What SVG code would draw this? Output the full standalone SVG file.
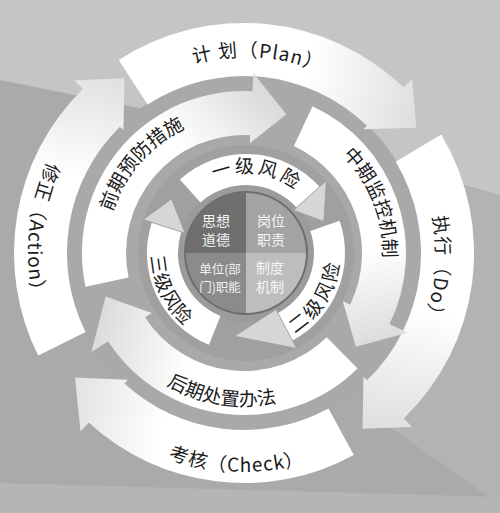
<svg xmlns="http://www.w3.org/2000/svg" width="500" height="513" viewBox="0 0 500 513">
<style>
.t{font-family:"Noto Sans CJK SC","Noto Sans",sans-serif;fill:#1b1b1b;font-size:19px;letter-spacing:1px}
.tm{font-family:"Noto Sans CJK SC","Noto Sans",sans-serif;fill:#1b1b1b;font-size:19px}
.ti{font-family:"Noto Sans CJK SC","Noto Sans",sans-serif;fill:#1b1b1b;font-size:19px;letter-spacing:3px}
.q{font-family:"Noto Sans CJK SC","Noto Sans",sans-serif;fill:#f6f6f6;font-size:14px;text-anchor:middle}
.qs{font-family:"Noto Sans CJK SC","Noto Sans",sans-serif;fill:#f0f0f0;font-size:12.5px;text-anchor:middle}
.head{fill:#d6d6d6;stroke:#9a9a9a;stroke-width:0.8}
.ib{fill:#ffffff}
</style>
<defs>
<linearGradient id="gPlan" gradientUnits="userSpaceOnUse" x1="133" y1="82" x2="416" y2="128"><stop offset="0" stop-color="#fff"/><stop offset="0.6" stop-color="#fff"/><stop offset="1" stop-color="#dedede"/></linearGradient>
<linearGradient id="gDo" gradientUnits="userSpaceOnUse" x1="418" y1="148" x2="362" y2="429"><stop offset="0" stop-color="#fff"/><stop offset="0.55" stop-color="#fff"/><stop offset="1" stop-color="#dedede"/></linearGradient>
<linearGradient id="gCheck" gradientUnits="userSpaceOnUse" x1="341" y1="432" x2="75" y2="378"><stop offset="0" stop-color="#fff"/><stop offset="0.65" stop-color="#fff"/><stop offset="1" stop-color="#e2e2e2"/></linearGradient>
<linearGradient id="gAct" gradientUnits="userSpaceOnUse" x1="62" y1="344" x2="124" y2="78"><stop offset="0" stop-color="#fff"/><stop offset="0.6" stop-color="#fff"/><stop offset="1" stop-color="#e0e0e0"/></linearGradient>
<linearGradient id="gPre" gradientUnits="userSpaceOnUse" x1="107" y1="282" x2="286" y2="114"><stop offset="0" stop-color="#fff"/><stop offset="0.6" stop-color="#fff"/><stop offset="1" stop-color="#dadada"/></linearGradient>
<linearGradient id="gMid" gradientUnits="userSpaceOnUse" x1="303" y1="126" x2="356" y2="347"><stop offset="0" stop-color="#fff"/><stop offset="0.6" stop-color="#fff"/><stop offset="1" stop-color="#dcdcdc"/></linearGradient>
<linearGradient id="gPost" gradientUnits="userSpaceOnUse" x1="342" y1="353" x2="106" y2="297"><stop offset="0" stop-color="#fff"/><stop offset="0.6" stop-color="#fff"/><stop offset="1" stop-color="#dcdcdc"/></linearGradient>
<path id="p-plan" d="M128.8,94.4 A196,196 0 0 1 380.2,112.0"/>
<path id="p-do" d="M401.3,142.9 A192,192 0 0 1 379.8,388.8"/>
<path id="p-check" d="M97.5,415.7 A219,219 0 0 0 378.8,425.6"/>
<path id="p-act" d="M93.9,97.6 A216,216 0 0 0 64.9,373.8"/>
<path id="p-pre" d="M106.0,250.6 A138,138 0 0 1 222.4,116.7"/>
<path id="p-mid" d="M310.3,130.8 A139,139 0 0 1 375.8,297.1"/>
<path id="p-post" d="M128.5,353.4 A153,153 0 0 0 322.8,384.2"/>
<path id="p-l1" d="M203.6,185.2 A80,80 0 0 1 305.4,199.5"/>
<path id="p-l2" d="M275.0,342.4 A94,94 0 0 0 339.1,239.9"/>
<path id="p-l3" d="M153.8,230.0 A95,95 0 0 0 207.4,339.8"/>
</defs>

<g id="background">
<rect width="500" height="513" fill="#aaaaaa"/>
<polygon points="0,0 500,0 500,195 300,140 0,80" fill="#c5c5c5"/>
<polygon points="500,195 440,180 380,420 500,505" fill="#b3b3b3"/>
<polygon points="0,483 500,497 500,513 0,513" fill="#b5b5b5"/>
<circle cx="244" cy="253" r="178" fill="#a9a9a9"/>
<circle cx="246" cy="253" r="108" fill="#a0a0a0"/>
</g>

<g id="connectors">
</g>

<g id="action">
<path d="M38.2,355.6 A230,230 0 0 1 82.8,88.9 L74.4,80.4 L124.5,77.9 L123.4,130.3 L119.9,126.7 A177,177 0 0 0 85.6,332.0 Z" fill="url(#gAct)"/>
<text class="t"><textPath href="#p-act" startOffset="50%" text-anchor="middle">修正（Action）</textPath></text>
</g>
<g id="plan">
<path d="M118.7,60.1 A230,230 0 0 1 403.8,87.6 L412.1,78.9 L416.3,127.8 L363.5,129.3 L367.0,125.7 A177,177 0 0 0 147.6,104.6 Z" fill="url(#gPlan)"/>
<text class="t"><textPath href="#p-plan" startOffset="50%" text-anchor="middle">计 划（Plan）</textPath></text>
</g>
<g id="do">
<path d="M441.2,134.5 A230,230 0 0 1 403.8,418.4 L412.1,427.1 L362.5,428.8 L363.5,376.7 L367.0,380.3 A177,177 0 0 0 395.7,161.8 Z" fill="url(#gDo)"/>
<text class="t"><textPath href="#p-do" startOffset="50%" text-anchor="middle">执行（Do）</textPath></text>
</g>
<g id="check">
<path d="M353.8,455.1 A230,230 0 0 1 88.6,422.6 L80.5,431.4 L75.0,377.6 L127.8,379.8 L124.4,383.5 A177,177 0 0 0 328.5,408.5 Z" fill="url(#gCheck)"/>
<text class="t"><textPath href="#p-check" startOffset="50%" text-anchor="middle">考核（Check）</textPath></text>
</g>

<g id="post">
<path d="M357.5,368.6 A162,162 0 0 1 108.1,341.2 L91.4,352.1 L105.7,296.6 L151.7,312.9 L145.0,317.3 A118,118 0 0 0 326.7,337.2 Z" fill="url(#gPost)"/>
<text class="tm"><textPath href="#p-post" startOffset="50%" text-anchor="middle">后期处置办法</textPath></text>
</g>
<g id="pre">
<path d="M85.5,286.7 A162,162 0 0 1 252.5,91.2 L253.4,73.3 L286.4,114.3 L249.8,143.2 L250.2,135.2 A118,118 0 0 0 128.6,277.5 Z" fill="url(#gPre)"/>
<text class="tm"><textPath href="#p-pre" startOffset="50%" text-anchor="middle">前期预防措施</textPath></text>
</g>
<g id="mid">
<path d="M312.5,106.2 A162,162 0 0 1 389.6,324.0 L407.6,332.8 L355.8,346.8 L342.9,301.2 L350.1,304.7 A118,118 0 0 0 293.9,146.1 Z" fill="url(#gMid)"/>
<text class="tm"><textPath href="#p-mid" startOffset="50%" text-anchor="middle">中期监控机制</textPath></text>
</g>

<g id="ring">
<circle cx="246" cy="253" r="69" fill="#9b9b9b"/>
</g>

<g id="level1">
<path class="ib" d="M179.8,179.4 A99,99 0 0 1 319.6,186.8 L296.5,207.5 A68,68 0 0 0 200.5,202.5 Z"/>
<path class="head" d="M326.3,180.7 L323.9,221.5 L293.6,210.2 Z"/>
<text class="ti"><textPath href="#p-l1" startOffset="50%" text-anchor="middle">一级风险</textPath></text>
</g>
<g id="level2">
<path class="ib" d="M339.6,220.8 A99,99 0 0 1 292.5,340.4 L277.9,313.0 A68,68 0 0 0 310.3,230.9 Z"/>
<path class="head" d="M296.7,348.4 L234.3,336.2 L276.0,309.5 Z"/>
<text class="ti"><textPath href="#p-l2" startOffset="50%" text-anchor="middle">二级风险</textPath></text>
</g>
<g id="level3">
<path class="ib" d="M208.9,344.8 A99,99 0 0 1 151.8,222.4 L181.3,232.0 A68,68 0 0 0 220.5,316.0 Z"/>
<path class="head" d="M143.3,219.6 L171.6,198.9 L185.1,233.2 Z"/>
<text class="ti" style="letter-spacing:1px"><textPath href="#p-l3" startOffset="50%" text-anchor="middle">三级风险</textPath></text>
</g>

<g id="core">
<circle cx="246" cy="253" r="62" fill="#6e6e6e"/>
<g id="q-moral">
<path d="M246,253 L186,253 A60,60 0 0 1 246,193 Z" fill="#6f6f6f"/>
<text class="q" x="216" y="226">思想</text>
<text class="q" x="216" y="245">道德</text>
</g>
<g id="q-duty">
<path d="M246,253 L246,193 A60,60 0 0 1 306,253 Z" fill="#a3a3a3"/>
<text class="q" x="271" y="226">岗位</text>
<text class="q" x="271" y="245">职责</text>
</g>
<g id="q-system">
<path d="M246,253 L306,253 A60,60 0 0 1 246,313 Z" fill="#bdbdbd"/>
<text class="q" x="270" y="273">制度</text>
<text class="q" x="270" y="292">机制</text>
</g>
<g id="q-unit">
<path d="M246,253 L246,313 A60,60 0 0 1 186,253 Z" fill="#8b8b8b"/>
<text class="qs" x="220" y="274">单位(部</text>
<text class="qs" x="220" y="292">门)职能</text>
</g>
</g>
</svg>
